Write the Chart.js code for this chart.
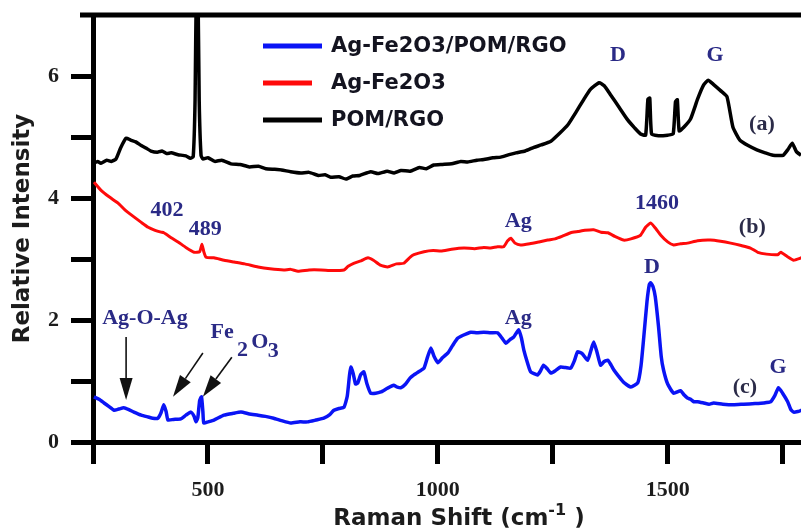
<!DOCTYPE html>
<html lang="en">
<head>
  <meta charset="UTF-8">
  <title>Raman spectra</title>
  <script src="https://cdn.jsdelivr.net/npm/chart.js"></script>
  <style>
    html, body { margin: 0; padding: 0; background: #fff; }
    #wrap { width: 801px; height: 528px; }
  </style>
</head>
<body>
  <div id="wrap"><canvas id="ramanChart" width="801" height="528"></canvas></div>

  <script>
    // spectrum labels (legend order)
    const seriesNames = ['Ag-Fe2O3/POM/RGO', 'Ag-Fe2O3', 'POM/RGO'];

    // (c) Ag-Fe2O3/POM/RGO
    const shiftC = [252, 263, 274, 285, 296, 306, 317, 328, 339, 355, 370, 380, 391, 398, 404, 409, 413, 425, 441, 452,
      463, 470, 474, 478, 482, 486, 489, 491, 500, 513, 535, 555, 572, 590, 609, 625, 643, 660, 680, 700,
      717, 735, 752, 765, 774, 785, 796, 803, 808, 811, 816, 821, 826, 832, 839, 846, 854, 865, 876, 890,
      904, 912, 920, 930, 940, 948, 960, 970, 978, 985, 992, 1000, 1010, 1022, 1032, 1043, 1055, 1072, 1085, 1100,
      1115, 1130, 1140, 1148, 1157, 1165, 1176, 1182, 1187, 1195, 1202, 1217, 1223, 1230, 1238, 1246, 1256, 1267, 1278, 1289,
      1297, 1304, 1314, 1326, 1333, 1339, 1346, 1354, 1362, 1370, 1377, 1383, 1393, 1404, 1420, 1435, 1442, 1448, 1455, 1460,
      1463, 1468, 1473, 1480, 1486, 1491, 1500, 1513, 1528, 1536, 1543, 1550, 1557, 1565, 1578, 1590, 1600, 1620, 1643, 1665,
      1690, 1709, 1724, 1733, 1741, 1750, 1761, 1768, 1774, 1783, 1791];
    const intensityC = [0.74, 0.70, 0.64, 0.58, 0.52, 0.54, 0.56, 0.53, 0.49, 0.44, 0.41, 0.39, 0.39, 0.48, 0.61, 0.50, 0.36, 0.37, 0.38, 0.44,
      0.49, 0.42, 0.33, 0.40, 0.68, 0.74, 0.50, 0.31, 0.33, 0.36, 0.44, 0.47, 0.49, 0.46, 0.44, 0.42, 0.39, 0.35, 0.31, 0.33,
      0.33, 0.36, 0.39, 0.45, 0.52, 0.55, 0.57, 0.75, 1.10, 1.23, 1.12, 0.95, 0.97, 1.10, 1.15, 0.95, 0.80, 0.80, 0.82, 0.88,
      0.93, 0.90, 0.89, 0.95, 1.05, 1.10, 1.16, 1.21, 1.40, 1.54, 1.40, 1.30, 1.38, 1.46, 1.58, 1.70, 1.75, 1.80, 1.79, 1.80,
      1.79, 1.79, 1.70, 1.62, 1.68, 1.72, 1.84, 1.70, 1.51, 1.30, 1.15, 1.10, 1.16, 1.26, 1.20, 1.13, 1.17, 1.23, 1.22, 1.21,
      1.33, 1.48, 1.45, 1.34, 1.50, 1.64, 1.48, 1.26, 1.32, 1.34, 1.26, 1.18, 1.08, 0.98, 0.90, 0.97, 1.25, 1.72, 2.30, 2.58,
      2.61, 2.55, 2.38, 1.90, 1.40, 1.18, 0.95, 0.80, 0.84, 0.77, 0.72, 0.70, 0.66, 0.66, 0.64, 0.62, 0.64, 0.62, 0.61, 0.62,
      0.63, 0.64, 0.66, 0.76, 0.89, 0.80, 0.66, 0.53, 0.49, 0.50, 0.52];

    // (b) Ag-Fe2O3
    const shiftB = [252, 267, 285, 304, 320, 339, 355, 370, 385, 398, 404, 420, 435, 452, 470, 482, 487, 491, 496, 513,
      535, 557, 580, 609, 635, 665, 680, 696, 720, 746, 770, 796, 805, 817, 833, 848, 860, 875, 891, 910,
      926, 940, 948, 970, 990, 1007, 1030, 1057, 1080, 1100, 1115, 1130, 1143, 1152, 1159, 1168, 1180, 1200, 1220, 1239,
      1255, 1270, 1289, 1305, 1320, 1339, 1355, 1370, 1385, 1404, 1420, 1441, 1452, 1463, 1474, 1485, 1500, 1513, 1528, 1543,
      1565, 1593, 1615, 1637, 1660, 1680, 1696, 1715, 1739, 1746, 1760, 1774, 1791];
    const intensityB = [4.26, 4.13, 4.02, 3.92, 3.80, 3.69, 3.60, 3.52, 3.47, 3.44, 3.43, 3.35, 3.28, 3.19, 3.11, 3.12, 3.24, 3.12, 3.03, 3.02,
      2.98, 2.95, 2.92, 2.87, 2.84, 2.82, 2.83, 2.80, 2.82, 2.82, 2.81, 2.82, 2.88, 2.93, 2.97, 3.02, 2.98, 2.90, 2.87, 2.92,
      2.93, 3.03, 3.07, 3.12, 3.14, 3.13, 3.16, 3.18, 3.17, 3.19, 3.18, 3.20, 3.20, 3.30, 3.34, 3.26, 3.23, 3.25, 3.28, 3.31,
      3.33, 3.37, 3.43, 3.45, 3.47, 3.48, 3.44, 3.43, 3.37, 3.31, 3.33, 3.39, 3.52, 3.59, 3.50, 3.39, 3.28, 3.23, 3.25, 3.26,
      3.30, 3.31, 3.29, 3.26, 3.22, 3.18, 3.11, 3.08, 3.07, 3.11, 3.04, 2.98, 3.02];

    // (a) POM/RGO
    const shiftA = [252, 260, 267, 280, 290, 300, 310, 322, 332, 343, 355, 365, 376, 390, 400, 410, 420, 435, 452, 462,
      468, 472, 475, 478, 481, 485, 489, 500, 515, 530, 550, 570, 590, 610, 626, 645, 660, 680, 702, 720,
      740, 755, 767, 785, 800, 815, 830, 854, 870, 890, 905, 920, 940, 960, 975, 991, 1010, 1030, 1050, 1065,
      1085, 1100, 1120, 1137, 1155, 1170, 1190, 1209, 1225, 1246, 1265, 1283, 1300, 1317, 1332, 1351, 1362, 1376, 1395, 1413,
      1428, 1441, 1452, 1457, 1461, 1465, 1480, 1500, 1512, 1517, 1521, 1525, 1535, 1550, 1565, 1578, 1588, 1600, 1615, 1629,
      1642, 1657, 1675, 1694, 1712, 1729, 1751, 1762, 1771, 1780, 1790];
    const intensityA = [4.57, 4.60, 4.57, 4.62, 4.60, 4.64, 4.82, 4.98, 4.95, 4.92, 4.86, 4.82, 4.77, 4.75, 4.77, 4.73, 4.74, 4.71, 4.69, 4.65,
      4.68, 5.60, 7.60, 7.60, 5.60, 4.70, 4.64, 4.66, 4.60, 4.62, 4.56, 4.55, 4.51, 4.52, 4.48, 4.47, 4.46, 4.43, 4.41, 4.42,
      4.37, 4.38, 4.34, 4.35, 4.31, 4.36, 4.37, 4.43, 4.40, 4.44, 4.41, 4.45, 4.44, 4.50, 4.48, 4.54, 4.55, 4.56, 4.60, 4.59,
      4.62, 4.63, 4.66, 4.67, 4.71, 4.74, 4.77, 4.83, 4.87, 4.93, 5.06, 5.20, 5.40, 5.61, 5.78, 5.89, 5.84, 5.69, 5.48, 5.28,
      5.15, 5.05, 5.03, 5.62, 5.64, 5.05, 5.02, 5.03, 5.05, 5.58, 5.61, 5.10, 5.16, 5.30, 5.62, 5.85, 5.93, 5.86, 5.76, 5.66,
      5.16, 4.95, 4.86, 4.79, 4.74, 4.70, 4.70, 4.80, 4.90, 4.76, 4.70];

    // tick marks and which of them carry a label
    const xTickValues = [250, 500, 750, 1000, 1250, 1500, 1750];
    const xTickLabels = [500, 1000, 1500];
    const yTickValues = [0, 1, 2, 3, 4, 5, 6];
    const yTickLabels = [0, 2, 4, 6];

    function toPoints(xs, ys) {
      return xs.map((x, i) => ({ x: x, y: ys[i] }));
    }

    const ink = '#1c1c1c';
    const navy = '#2a2a86';

    // peak labels, placed in data units
    const peakLabels = [
      { text: 'D', x: 1392, y: 6.34 },
      { text: 'G', x: 1603, y: 6.34 },
      { text: '(a)', x: 1705, y: 5.20, dark: true },
      { text: '402', x: 411, y: 3.80 },
      { text: '489', x: 494, y: 3.48 },
      { text: 'Ag', x: 1175, y: 3.61 },
      { text: '1460', x: 1477, y: 3.92 },
      { text: '(b)', x: 1684, y: 3.52, dark: true },
      { text: 'D', x: 1466, y: 2.87 },
      { text: 'Ag', x: 1175, y: 2.03 },
      { text: 'G', x: 1740, y: 1.23 },
      { text: '(c)', x: 1668, y: 0.90, dark: true },
      { text: 'Ag-O-Ag', x: 363, y: 2.03 },
      { text: 'Fe', x: 531, y: 1.80 },
      { text: '2', x: 575, y: 1.51 },
      { text: 'O', x: 613, y: 1.64 },
      { text: '3', x: 642, y: 1.48 }
    ];

    const arrows = [
      { from: [322, 1.72], to: [322, 0.69] },
      { from: [489, 1.46], to: [424, 0.74] },
      { from: [552, 1.39], to: [489, 0.74] }
    ];

    const legendRows = [46, 83, 120];

    const decorations = {
      id: 'decorations',
      afterDatasetsDraw(chart) {
        const { ctx, chartArea, scales } = chart;
        const xs = scales.x, ys = scales.y;
        ctx.save();

        // top frame line
        ctx.fillStyle = '#000';
        ctx.fillRect(80, chartArea.top - 2.5, chart.width - 80, 5);

        // peak labels
        ctx.textAlign = 'center';
        ctx.textBaseline = 'middle';
        peakLabels.forEach(p => {
          ctx.font = 'bold 22px "Liberation Serif", "Times New Roman", serif';
          ctx.fillStyle = p.dark ? '#2b2b48' : navy;
          ctx.fillText(p.text, xs.getPixelForValue(p.x), ys.getPixelForValue(p.y));
        });

        // arrows
        ctx.strokeStyle = '#111';
        ctx.fillStyle = '#111';
        ctx.lineWidth = 1.6;
        arrows.forEach(a => {
          const x1 = xs.getPixelForValue(a.from[0]), y1 = ys.getPixelForValue(a.from[1]);
          const x2 = xs.getPixelForValue(a.to[0]), y2 = ys.getPixelForValue(a.to[1]);
          const ang = Math.atan2(y2 - y1, x2 - x1);
          const headLen = 22, headHalf = 6.5;
          const bx = x2 - headLen * Math.cos(ang), by = y2 - headLen * Math.sin(ang);
          ctx.beginPath();
          ctx.moveTo(x1, y1);
          ctx.lineTo(bx, by);
          ctx.stroke();
          ctx.beginPath();
          ctx.moveTo(x2, y2);
          ctx.lineTo(bx + headHalf * Math.sin(ang), by - headHalf * Math.cos(ang));
          ctx.lineTo(bx - headHalf * Math.sin(ang), by + headHalf * Math.cos(ang));
          ctx.closePath();
          ctx.fill();
        });

        // legend
        ctx.textAlign = 'left';
        ctx.font = 'bold 21px "DejaVu Sans", sans-serif';
        chart.data.datasets.forEach((ds, i) => {
          const y = legendRows[i];
          ctx.strokeStyle = ds.borderColor;
          ctx.lineWidth = 5;
          ctx.beginPath();
          ctx.moveTo(263, y);
          ctx.lineTo(i === 1 ? 312 : 322, y);
          ctx.stroke();
          ctx.fillStyle = '#141420';
          ctx.fillText(ds.label, 331, y + 1);
        });

        // axis titles
        ctx.fillStyle = ink;
        ctx.font = 'bold 23px "DejaVu Sans", sans-serif';
        ctx.save();
        ctx.translate(23, (chartArea.top + chartArea.bottom) / 2);
        ctx.rotate(-Math.PI / 2);
        ctx.textAlign = 'center';
        ctx.fillText('Relative Intensity', 0, 0);
        ctx.restore();

        const main = 'Raman Shift (cm', sup = '-1', tail = ' )';
        ctx.textBaseline = 'alphabetic';
        const wMain = ctx.measureText(main).width;
        const wTail = ctx.measureText(tail).width;
        ctx.font = 'bold 16px "DejaVu Sans", sans-serif';
        const wSup = ctx.measureText(sup).width;
        let x = 459 - (wMain + wSup + wTail) / 2;
        const base = 525;
        ctx.font = 'bold 23px "DejaVu Sans", sans-serif';
        ctx.fillText(main, x, base);
        x += wMain;
        ctx.font = 'bold 16px "DejaVu Sans", sans-serif';
        ctx.fillText(sup, x, base - 10);
        x += wSup;
        ctx.font = 'bold 23px "DejaVu Sans", sans-serif';
        ctx.fillText(tail, x, base);

        ctx.restore();
      }
    };

    const lineStyle = (label, color, width, xs, ys) => ({
      label: label,
      data: toPoints(xs, ys),
      borderColor: color,
      borderWidth: width,
      pointRadius: 0,
      tension: 0.15,
      fill: false
    });

    const tickFont = { family: '"Liberation Serif", "Times New Roman", serif', size: 22, weight: 'bold' };
    const axisGrid = { drawOnChartArea: false, drawTicks: true, tickLength: 22, tickWidth: 5, tickColor: '#000' };

    new Chart(document.getElementById('ramanChart'), {
      type: 'line',
      data: {
        datasets: [
          lineStyle(seriesNames[0], '#0a14f5', 3.5, shiftC, intensityC),
          lineStyle(seriesNames[1], '#ff0a0a', 3, shiftB, intensityB),
          lineStyle(seriesNames[2], '#000000', 3.5, shiftA, intensityA)
        ]
      },
      options: {
        responsive: false,
        animation: false,
        layout: { padding: { top: 15, right: 0, bottom: 0, left: 0 } },
        plugins: {
          legend: { display: false },
          tooltip: { enabled: false }
        },
        scales: {
          x: {
            type: 'linear',
            min: 250,
            max: 1790,
            grid: axisGrid,
            border: { display: true, width: 5, color: '#000' },
            afterBuildTicks: scale => { scale.ticks = xTickValues.map(v => ({ value: v })); },
            ticks: {
              maxRotation: 0,
              autoSkip: false,
              padding: 13,
              color: ink,
              font: tickFont,
              callback: v => xTickLabels.includes(v) ? String(v) : ''
            },
            afterFit: scale => {
              scale.height = 86;
              scale.paddingLeft = 0;
              scale.paddingRight = 0;
            }
          },
          y: {
            min: 0,
            max: 7,
            grid: axisGrid,
            border: { display: true, width: 5, color: '#000' },
            afterBuildTicks: scale => { scale.ticks = yTickValues.map(v => ({ value: v })); },
            ticks: {
              autoSkip: false,
              padding: 12,
              color: ink,
              font: tickFont,
              callback: v => yTickLabels.includes(v) ? String(v) : ''
            },
            afterFit: scale => {
              scale.width = 93;
              scale.paddingTop = 0;
              scale.paddingBottom = 0;
            }
          }
        }
      },
      plugins: [decorations]
    });
  </script>
</body>
</html>
